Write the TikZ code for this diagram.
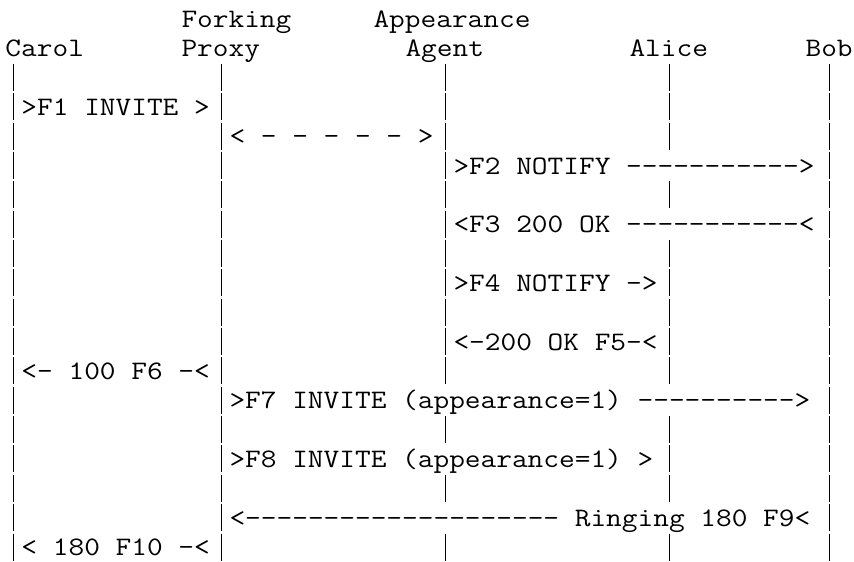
\documentclass[tikz,border=0pt]{standalone}
\usepackage{fontspec}
\newfontfamily\asciifont{Latin Modern Mono}[FakeStretch=1.1428]
\usetikzlibrary{positioning}

\begin{document}
\begin{tikzpicture}[x=16pt,y=-29.35pt,
		txt/.style={anchor=base west,inner sep=0pt,font=\asciifont\fontsize{26.67}{29.35}\selectfont},
		msg/.style={txt,fill=white,text height=23.3pt,text depth=5.2pt},
		lifeline/.style={line width=1.5pt,dash pattern=on 27pt off 2.35pt}]
			\useasboundingbox (-0.331,0.068) rectangle (53.04,19.182);
			
			\node[txt] (fork) at (11,1) {Forking};
			\node[txt] (appear) at (23,1) {Appearance};
			\node[txt] (carol) at (0,2) {Carol};
			\node[txt] (proxy) at (11,2) {Proxy};
			\node[txt] (agent) at (25,2) {Agent};
			\node[txt] (alice) at (39,2) {Alice};
			\node[txt] (bob) at (50,2) {Bob};
			
			\foreach \n/\c in {carol/0,proxy/13,agent/27,alice/41,bob/51}{
				\coordinate (\n top) at (\c+0.5,2.245);
				\coordinate (\n end) at (\c+0.5,19.182);
				\path [lifeline, black] (\n top) edge (\n end);
			}
			
			\node[msg] (f1) at (1,4) {>F1 INVITE >};
			\node[msg] (fx) at (14,5) {< - - - - - >};
			\node[msg] (f2) at (28,6) {>F2 NOTIFY ----------->};
			\node[msg] (f3) at (28,8) {<F3 200 OK -----------<};
			\node[msg] (f4) at (28,10) {>F4 NOTIFY ->};
			\node[msg] (f5) at (28,12) {<-200 OK F5-<};
			\node[msg] (f6) at (1,13) {<- 100 F6 -<};
			\node[msg] (f7) at (14,14) {>F7 INVITE (appearance=1) ---------->};
			\node[msg] (f8) at (14,16) {>F8 INVITE (appearance=1) >};
			\node[msg] (f9) at (14,18) {<-------------------- Ringing 180 F9<};
			\node[msg] (f10) at (1,19) {< 180 F10 -<};
\end{tikzpicture}
\end{document}
